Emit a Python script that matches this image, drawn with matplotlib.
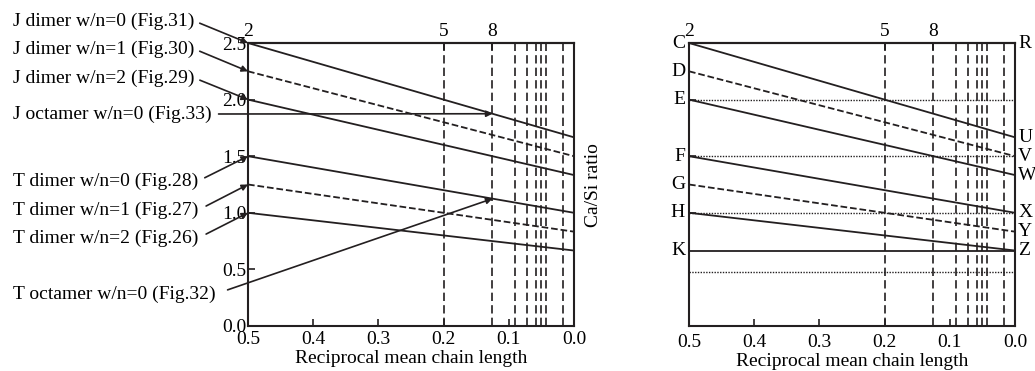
import numpy as np
import matplotlib
matplotlib.use("Agg")
import matplotlib.pyplot as plt

plt.rcParams['font.family'] = ['Liberation Serif', 'DejaVu Serif']
plt.rcParams['font.size'] = 14
INK = '#231f20'

# ---- data ----
# Ca/Si ratio at chain length 2 (x=0.5) and at infinite chain (x=0)
start_ratio = [2.5, 2.25, 2.0, 1.5, 1.25, 1.0]
end_ratio = [5/3, 1.5, 4/3, 1.0, 5/6, 2/3]
line_style = ['-', '--', '-', '-', '--', '-']

chain_n = [5, 8, 11, 14, 17, 20, 23, 59]          # dashed verticals at 1/n
top_ticks = [2, 5, 8]
x_ticks = [0.5, 0.4, 0.3, 0.2, 0.1, 0.0]
y_ticks = [0.0, 0.5, 1.0, 1.5, 2.0, 2.5]

# left panel annotations
ann_text = ['J dimer w/n=0 (Fig.31)', 'J dimer w/n=1 (Fig.30)', 'J dimer w/n=2 (Fig.29)',
            'J octamer w/n=0 (Fig.33)', 'T dimer w/n=0 (Fig.28)', 'T dimer w/n=1 (Fig.27)',
            'T dimer w/n=2 (Fig.26)', 'T octamer w/n=0 (Fig.32)']
ann_x = [0.5, 0.5, 0.5, 0.125, 0.5, 0.5, 0.5, 0.125]
ann_y = [2.5, 2.25, 2.0, 1.875, 1.5, 1.25, 1.0, 1.125]
ann_row = [21, 49, 78, 114, 181, 210, 238, 294]     # text row (pixels from top)
ann_gap = [2, 2, 2, 3, 3, 4, 4, 7]

# right panel
left_letters = ['C', 'D', 'E', 'F', 'G', 'H', 'K']
left_vals = [2.5, 2.25, 2.0, 1.5, 1.25, 1.0, 2/3]
right_letters = ['R', 'U', 'V', 'W', 'X', 'Y', 'Z']
right_vals = [2.5, 5/3, 1.5, 4/3, 1.0, 5/6, 2/3]
dotted_levels = [2.0, 1.5, 1.0, 0.48]
k_level = 2/3

W, H = 1035, 371
fig = plt.figure(figsize=(W/100, H/100), dpi=100)
ax1 = fig.add_axes([248/W, 1-326/H, 326/W, 283/H])
ax2 = fig.add_axes([689/W, 1-326/H, 326/W, 283/H])


def base(ax, xpad):
    ax.set_xlim(0.5, 0.0)
    ax.set_ylim(0, 2.5)
    for s in ax.spines.values():
        s.set_linewidth(1.5)
        s.set_color(INK)
    for n in chain_n:
        ax.axvline(1/n, color=INK, lw=1.2, ls=(0, (5, 2.5)))
    for y0, y1, st in zip(start_ratio, end_ratio, line_style):
        ax.plot([0.5, 0.0], [y0, y1], color=INK, lw=1.3, ls=st)
    ax.set_xticks(x_ticks)
    ax.set_xticklabels([f'{v:.1f}' for v in x_ticks])
    ax.tick_params(direction='in', length=5, width=1.2, color=INK, pad=1)
    ax.tick_params(axis='x', pad=xpad)
    ax.set_xlabel('Reciprocal mean chain length', labelpad=1.5)
    top = ax.secondary_xaxis('top')
    top.set_xticks([1/n for n in top_ticks])
    top.set_xticklabels([str(n) for n in top_ticks])
    top.tick_params(direction='in', length=5, width=1.2, pad=2.5)
    top.spines['top'].set_linewidth(1.5)


base(ax1, 3.5)
base(ax2, 5.5)

ax1.set_yticks(y_ticks)
ax1.set_yticklabels([f'{v:.1f}' for v in y_ticks])

for txt, x, y, row, g in zip(ann_text, ann_x, ann_y, ann_row, ann_gap):
    ax1.annotate(txt, xy=(x, y), xytext=(13, H - row), textcoords='figure pixels',
                 ha='left', va='center', annotation_clip=False,
                 arrowprops=dict(arrowstyle='-|>', color=INK, lw=1.2,
                                 mutation_scale=9, shrinkA=g, shrinkB=0,
                                 relpos=(1, 0.5)))

fig.text(593/W, 1-185/H, 'Ca/Si ratio', rotation=90, ha='center', va='center')

# right panel extras
for lv in dotted_levels:
    ax2.axhline(lv, color=INK, lw=1.0, ls=(0, (1, 1)))
ax2.plot([0.5, 0.0], [k_level, k_level], color=INK, lw=1.3)
ax2.set_yticks([1.0, 1.5, 2.0, 2.5])
ax2.set_yticklabels([])
for lab, v in zip(left_letters, left_vals):
    ax2.text(-0.012, v, lab, transform=ax2.get_yaxis_transform(), ha='right', va='center')
for lab, v in zip(right_letters, right_vals):
    ax2.text(1.01, v, lab, transform=ax2.get_yaxis_transform(), ha='left', va='center')

fig.savefig('out.png', dpi=100)
